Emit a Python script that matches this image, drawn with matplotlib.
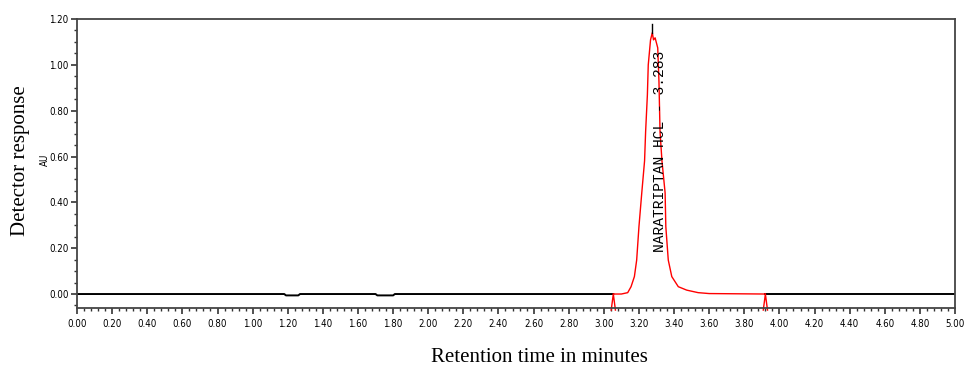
import matplotlib
matplotlib.use("Agg")
import matplotlib.pyplot as plt
import numpy as np
from matplotlib.ticker import MultipleLocator, FormatStrFormatter
from matplotlib import font_manager

# Chromatogram trace data (minutes, AU)
base_left_t = [0.00, 1.18, 1.19, 1.26, 1.27, 1.70, 1.71, 1.80, 1.81, 3.054]
base_left_y = [0.000, 0.000, -0.006, -0.006, 0.000, 0.000, -0.006, -0.006, 0.000, 0.000]

peak_t = [3.054, 3.10, 3.136, 3.155, 3.174, 3.187, 3.200, 3.216, 3.232, 3.238, 3.248,
          3.253, 3.266, 3.276, 3.283, 3.292, 3.307, 3.314, 3.320, 3.331, 3.349,
          3.353, 3.367, 3.387, 3.424, 3.472, 3.537, 3.600, 3.92]
peak_y = [0.000, 0.000, 0.006, 0.032, 0.076, 0.148, 0.294, 0.441, 0.581, 0.709, 0.869,
          1.000, 1.109, 1.140, 1.109, 1.118, 1.074, 0.926, 0.709, 0.581, 0.441,
          0.294, 0.148, 0.076, 0.032, 0.017, 0.006, 0.002, 0.000]

base_right_t = [3.92, 5.00]
base_right_y = [0.000, 0.000]

marker_t = [3.054, 3.92]          # integration start / end
peak_rt = 3.276
peak_apex = 1.140
peak_label = "NARATRIPTAN HCL - 3.283"

x_ticks = np.arange(0, 5.01, 0.2)
y_ticks = np.arange(0, 1.201, 0.2)

# narrow font for tick labels, if a condensed face is present
narrow_fp = font_manager.FontProperties(family="DejaVu Sans", stretch="condensed", size=7)
for cand in ["Liberation Sans Narrow", "DejaVu Sans"]:
    try:
        path = font_manager.findfont(font_manager.FontProperties(family=cand, stretch="condensed"),
                                     fallback_to_default=False)
        if "ondensed" in path or "Narrow" in path:
            narrow_fp = font_manager.FontProperties(fname=path, size=7)
            break
    except Exception:
        pass
au_fp = narrow_fp.copy()
au_fp.set_size(7)

fig = plt.figure(figsize=(9.64, 3.69), dpi=100)
ax = fig.add_axes([0.0799, 0.1653, 0.9108, 0.7832])

ax.plot(base_left_t, base_left_y, color="black", lw=1.4)
ax.plot(base_right_t, base_right_y, color="black", lw=1.4)
ax.plot(peak_t, peak_y, color="#ff0000", lw=1.0)

# integration start/end markers (small red carets below baseline)
for mt in marker_t:
    ax.plot([mt - 0.012, mt, mt + 0.012], [-0.07, 0.0, -0.07], color="#ff0000", lw=1.0, clip_on=False)

# retention time marker above apex
ax.plot([peak_rt, peak_rt], [peak_apex, 1.18], color="black", lw=1.0)

ax.text(peak_rt + 0.045, 0.183, peak_label, rotation=90, ha="center", va="bottom",
        fontsize=10.5, family=["Liberation Mono", "DejaVu Sans Mono"], color="black", zorder=6)

ax.set_xlim(0, 5.0)
ax.set_ylim(-0.061, 1.20)
ax.set_xticks(x_ticks)
ax.set_yticks(y_ticks)
ax.xaxis.set_minor_locator(MultipleLocator(0.04))
ax.yaxis.set_minor_locator(MultipleLocator(0.05))
ax.xaxis.set_major_formatter(FormatStrFormatter("%.2f"))
ax.yaxis.set_major_formatter(FormatStrFormatter("%.2f"))

for lab in ax.get_xticklabels() + ax.get_yticklabels():
    lab.set_fontproperties(narrow_fp)

ax.tick_params(axis="both", which="major", direction="out", length=4, width=1.2, color="#333333", pad=4)
ax.tick_params(axis="both", which="minor", direction="out", length=2.5, width=1.0, color="#333333")
ax.tick_params(axis="y", pad=2)

for sp in ax.spines.values():
    sp.set_color("#444444")
    sp.set_linewidth(1.3)

fig.text(0.021, 0.566, "Detector response", rotation=90, ha="center", va="center",
         fontsize=15, family=["Liberation Serif", "DejaVu Serif"])
fig.text(0.047, 0.566, "AU", rotation=90, ha="center", va="center",
         fontproperties=au_fp)
fig.text(0.56, 0.03, "Retention time in minutes", ha="center", va="center",
         fontsize=15, family=["Liberation Serif", "DejaVu Serif"])

fig.savefig("out.png", dpi=100)
